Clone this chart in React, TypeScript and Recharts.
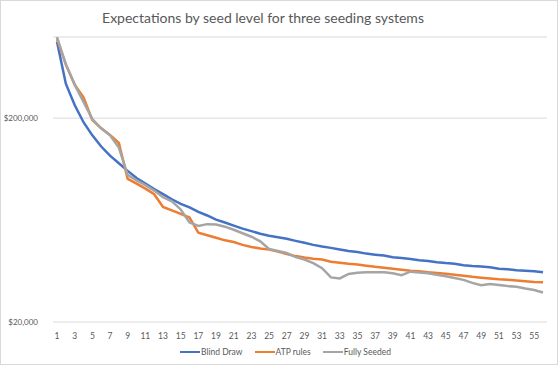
import React from 'react';
import { LineChart, Line, XAxis, YAxis, CartesianGrid, Legend } from 'recharts';

const seeds: number[] = Array.from({ length: 56 }, (_, i) => i + 1);

const blindDraw: number[] = [
  474000, 295000, 232000, 191000, 164600, 145100, 130900, 120100, 110200, 101700,
  95500, 89700, 84700, 80000, 76000, 73000, 69300, 66600, 63600, 61500,
  59400, 57400, 55800, 54200, 53000, 52100, 51200, 50000, 48900, 47800,
  46900, 46200, 45400, 44600, 44100, 43300, 42800, 42400, 41600, 41200,
  40700, 40200, 39800, 39300, 38900, 38600, 38000, 37600, 37400, 37100,
  36500, 36300, 35900, 35700, 35500, 35100,
];

const atpRules: number[] = [
  488000, 367000, 292000, 253000, 195500, 178300, 165500, 151000, 100600, 95500,
  90200, 84700, 73400, 70500, 67800, 65100, 54800, 53300, 51800, 50300,
  49400, 47800, 46700, 45900, 45300, 44300, 43100, 42100, 41400, 40900,
  40500, 39500, 39100, 38600, 38300, 37800, 37300, 36900, 36500, 36100,
  35700, 35500, 35100, 34800, 34500, 34100, 33700, 33300, 33000, 32700,
  32400, 32200, 32000, 31700, 31400, 31300,
];

const fullySeeded: number[] = [
  500000, 367000, 292000, 240200, 197700, 178300, 164600, 143400, 105300, 98900,
  93900, 88200, 81800, 78200, 71300, 61500, 59200, 60400, 60100, 58700,
  56700, 54500, 52400, 49700, 45600, 44600, 43600, 41600, 40500, 38900,
  36700, 33100, 32700, 34400, 34900, 35100, 35100, 35100, 34700, 33900,
  35300, 35000, 34700, 34100, 33500, 32900, 32200, 31100, 30300, 30700,
  30400, 30000, 29800, 29200, 28700, 27900,
];

const yTicks: number[] = [20000, 200000];

const seriesNames = ['Blind Draw', 'ATP rules', 'Fully Seeded'];
const seriesColors = ['#4472C4', '#ED7D31', '#A5A5A5'];

const data = seeds.map((s, i) => ({
  seed: s,
  blind: blindDraw[i],
  atp: atpRules[i],
  full: fullySeeded[i],
}));

const font = 'Lato, "Liberation Sans", sans-serif';

const formatMoney = (v: number) => '$' + v.toLocaleString('en-US');

const renderLegend = () => (
  <div style={{ display: 'flex', justifyContent: 'center', paddingLeft: 36, fontFamily: font, fontSize: 8.5, color: '#595959' }}>
    {seriesNames.map((name, i) => (
      <div key={name} style={{ display: 'flex', alignItems: 'center', marginRight: 12 }}>
        <span style={{ display: 'inline-block', width: 20, height: 2.5, background: seriesColors[i], marginRight: 1 }} />
        <span>{name}</span>
      </div>
    ))}
  </div>
);

export default function App() {
  return (
    <div style={{ position: 'absolute', left: 0, top: 0, width: 558, height: 365, background: '#fff', border: '1px solid #d9d9d9', boxSizing: 'border-box' }}>
      <div style={{ position: 'absolute', left: 0, top: 0, width: 524, textAlign: 'center', paddingTop: 8, fontFamily: font, fontSize: 14, color: '#595959' }}>
        Expectations by seed level for three seeding systems
      </div>
      <div style={{ position: 'absolute', left: -1, top: -1 }}>
        <LineChart width={558} height={365} data={data} margin={{ top: 37, right: 11, bottom: 8, left: 0 }}>
          <CartesianGrid vertical={false} stroke="#d9d9d9" strokeWidth={1} />
          <XAxis
            dataKey="seed"
            interval={1}
            tickLine={false}
            axisLine={false}
            height={25}
            tickMargin={5}
            padding={{ left: 4, right: 4 }}
            tick={{ fill: '#595959', fontSize: 8.5, fontFamily: font }}
          />
          <YAxis
            scale="log"
            domain={[20000, 500000]}
            ticks={yTicks}
            allowDataOverflow
            width={53}
            tickLine={false}
            axisLine={false}
            tickMargin={9}
            tickFormatter={formatMoney}
            tick={{ fill: '#595959', fontSize: 8, fontFamily: font }}
          />
          <Legend verticalAlign="bottom" content={renderLegend} />
          <Line type="linear" dataKey="blind" name={seriesNames[0]} stroke={seriesColors[0]} strokeWidth={2.5} dot={false} isAnimationActive={false} />
          <Line type="linear" dataKey="atp" name={seriesNames[1]} stroke={seriesColors[1]} strokeWidth={2.5} dot={false} isAnimationActive={false} />
          <Line type="linear" dataKey="full" name={seriesNames[2]} stroke={seriesColors[2]} strokeWidth={2.5} dot={false} isAnimationActive={false} />
        </LineChart>
      </div>
    </div>
  );
}
